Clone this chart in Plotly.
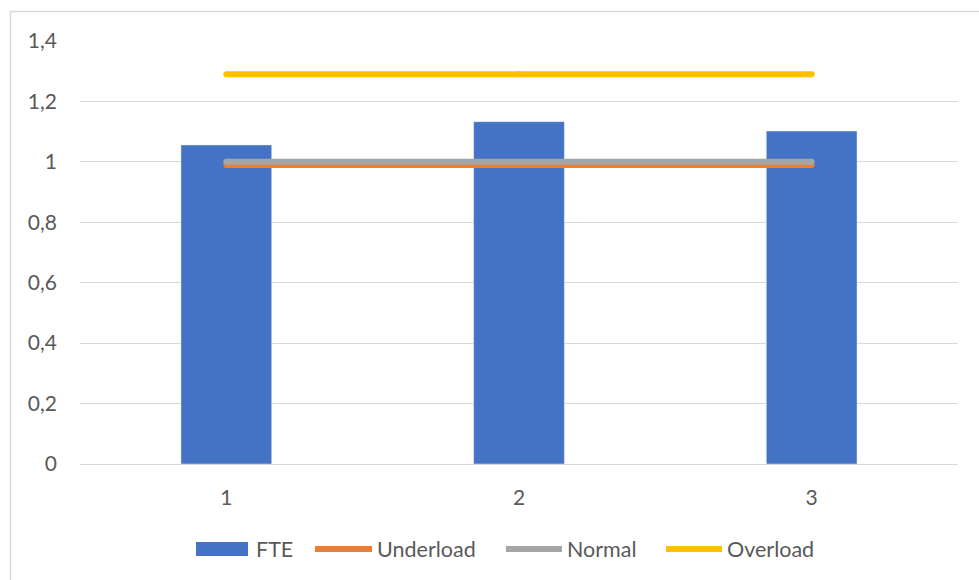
import plotly.graph_objects as go

# Chart data
categories = ["1", "2", "3"]
fte = [1.056, 1.133, 1.102]
underload = [0.99, 0.99, 0.99]
normal = [1.0, 1.0, 1.0]
overload = [1.29, 1.29, 1.29]
y_ticks = [0, 0.2, 0.4, 0.6, 0.8, 1.0, 1.2, 1.4]
y_tick_labels = ["0", "0,2", "0,4", "0,6", "0,8", "1", "1,2", "1,4"]

W, H = 979, 580
ML, MR, MT, MB = 80, 21, 41, 116
PW, PH = W - ML - MR, H - MT - MB

FONT = "Lato"
TEXT = "#595959"
GRID = "#d9d9d9"

BLUE = "#4472C4"
ORANGE = "#ED7D31"
GRAY = "#A5A5A5"
GOLD = "#FFC000"


def px_x(px):
    return (px - ML) / PW


def px_y(py):
    return (H - MB - py) / PH


fig = go.Figure()
fig.add_trace(go.Bar(x=categories, y=fte, name="FTE", marker=dict(color=BLUE),
                     showlegend=False))
for name, vals, col in [("Underload", underload, ORANGE),
                        ("Normal", normal, GRAY),
                        ("Overload", overload, GOLD)]:
    fig.add_trace(go.Scatter(x=categories, y=vals, name=name, mode="lines+markers",
                             line=dict(color=col, width=6),
                             marker=dict(color=col, size=6, line=dict(width=0)),
                             showlegend=False))

shapes = [
    # outer chart frame (top and left edges)
    dict(type="path", xref="paper", yref="paper",
         path=f"M {px_x(10.5)},{px_y(600)} L {px_x(10.5)},{px_y(11.5)} L {px_x(1000)},{px_y(11.5)}",
         line=dict(color=GRID, width=1.5)),
]
annotations = []

# legend row
ly = px_y(549)
shapes.append(dict(type="rect", xref="paper", yref="paper",
                   x0=px_x(196), x1=px_x(248), y0=px_y(556), y1=px_y(542),
                   fillcolor=BLUE, line=dict(width=0)))
legend_items = [("FTE", None, 196, 248, 254),
                ("Underload", ORANGE, 315, 372, 375),
                ("Normal", GRAY, 506, 562, 565),
                ("Overload", GOLD, 666, 722, 725)]
for name, col, s0, s1, tx in legend_items:
    if col is not None:
        shapes.append(dict(type="line", xref="paper", yref="paper",
                           x0=px_x(s0), x1=px_x(s1), y0=ly, y1=ly,
                           line=dict(color=col, width=6)))
    annotations.append(dict(text=name, xref="paper", yref="paper",
                            x=px_x(tx), y=ly, xanchor="left", yanchor="middle",
                            showarrow=False, font=dict(family=FONT, size=21.5, color=TEXT)))

fig.update_layout(
    width=W, height=H,
    margin=dict(l=ML, r=MR, t=MT, b=MB),
    paper_bgcolor="white", plot_bgcolor="white",
    bargap=0.69,
    showlegend=False,
    font=dict(family=FONT, size=21, color=TEXT),
    shapes=shapes,
    annotations=annotations,
    xaxis=dict(type="category", showgrid=False, showline=True, linecolor=GRID, linewidth=1,
               ticks="", ticklabelstandoff=15, tickfont=dict(family=FONT, size=21, color=TEXT),
               range=[-0.5, 2.5]),
    yaxis=dict(range=[0, 1.4], tickvals=y_ticks, ticktext=y_tick_labels,
               showgrid=True, gridcolor=GRID, gridwidth=1, zeroline=False,
               showline=False, ticks="", ticklabelstandoff=22,
               tickfont=dict(family=FONT, size=21, color=TEXT)),
)

fig.write_html("out.html")
